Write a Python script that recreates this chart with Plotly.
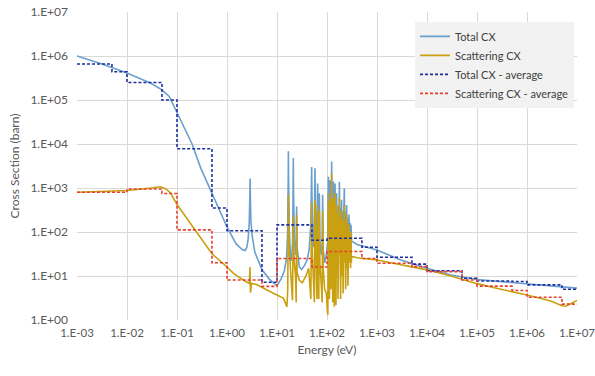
import plotly.graph_objects as go

# ---------------- data ----------------
# Total cross section (solid line)
total_E = [0.001, 0.00316, 0.01, 0.03, 0.05, 0.07, 0.1, 0.2, 0.3, 0.5, 1.0, 1.5, 2.0, 2.3,
           2.5, 2.65, 2.78, 2.86, 2.9, 2.94, 3.0, 3.2, 3.6, 5.0, 7.0,
           10, 12, 14, 15.5, 16.3, 16.8, 16.9, 17.0, 17.6, 18.5, 19.5, 20.5, 21.0, 21.2, 21.4,
           22.2, 23.5, 24.2, 24.7, 25.2, 26.5, 28, 31, 35, 40, 44, 47.5, 49.0, 49.3, 49.6,
           51, 54, 56.5, 57.5, 58.5, 60.5, 63, 65, 66.5, 68.5, 70.3, 72, 77, 80, 81.8, 84,
           90, 97, 103, 105.5, 106.5, 108, 110, 112, 113.5, 115, 116.5, 118, 120, 122, 124,
           126, 128, 130, 132, 134, 136, 138, 140, 142, 145, 147, 149, 151, 153, 156, 159,
           162, 166, 170, 173, 177, 180, 184, 187, 190, 193, 196, 200, 205, 210, 215, 222,
           227, 232, 236, 240, 247, 252, 258, 262, 266, 270, 275, 282, 290, 296, 302, 311,
           400, 1000, 3000, 10000, 30000, 100000, 300000, 1000000, 3000000, 10000000]
total_S = [1.0e6, 6.6e5, 4.1e5, 2.4e5, 1.7e5, 1.2e5, 5.2e4, 1.0e4, 2.8e3, 7.5e2, 1.3e2, 5.5e1, 4.0e1, 3.8e1,
           45, 70, 150, 600, 1650, 500, 180, 80, 35, 14, 8.5,
           6.0, 8.5, 13, 25, 90, 2000, 6800, 2000, 120, 30, 22, 60, 900, 4800, 900,
           70, 30, 45, 380, 45, 22, 16, 14, 17, 23, 40, 150, 1500, 3000, 1500,
           120, 45, 500, 2800, 500, 70, 60, 1260, 90, 160, 760, 60, 30, 45, 700, 40,
           20, 30, 60, 300, 1800, 80, 300, 50, 200, 1500, 60, 400, 45, 250, 4000,
           70, 500, 45, 200, 1400, 60, 500, 35, 200, 1260, 60, 450, 45, 250, 760, 60,
           400, 40, 350, 45, 1380, 70, 350, 35, 250, 60, 540, 50, 300, 40, 200, 980,
           60, 280, 40, 180, 410, 50, 200, 45, 150, 45, 250, 50, 160, 45, 145, 62,
           52, 39, 23, 15, 10.5, 8.3, 7.4, 6.7, 6.0, 5.3]

# Scattering cross section (solid line)
scat_E = [0.001, 0.01, 0.03, 0.047, 0.06, 0.075, 0.1, 0.2, 0.3, 0.5, 1.0, 1.35, 2.1, 2.8,
          2.88, 2.95, 3.1, 4.0, 6.3,
          10, 13.5, 15.0, 15.8, 16.4, 16.8, 16.9, 17.0, 17.6, 18.5, 19.5, 20.4, 21.0, 21.2, 21.4,
          22.2, 23.5, 24.2, 24.7, 25.2, 28, 32, 38, 43, 47.5, 49.0, 49.3, 49.6, 51, 54, 56,
          57.5, 58.5, 60.5, 63, 65, 66.5, 68.5, 70.3, 72, 77, 80, 81.8, 84, 90, 97, 102, 104,
          105.5, 106.5, 108, 110, 112, 113.5, 115, 116.5, 118, 120, 122, 124, 126, 128, 130,
          132, 134, 136, 138, 140, 142, 145, 147, 149, 151, 153, 156, 159, 162, 166, 170,
          173, 177, 180, 184, 187, 190, 193, 196, 200, 205, 210, 215, 222, 227, 232, 236,
          240, 247, 252, 258, 262, 266, 270, 275, 282, 290, 296, 302, 307, 311,
          400, 1000, 3000, 10000, 30000, 100000, 300000, 1000000, 3000000, 5000000, 6000000,
          8000000, 10000000]
scat_S = [800, 880, 1000, 1070, 950, 760, 420, 140, 70, 32, 16, 11.5, 8.1, 6.8,
          16, 4.2, 6.8, 6.3, 4.8,
          3.7, 3.1, 2.3, 2.0, 5, 300, 700, 300, 40, 15, 8, 2.8, 50, 220, 60,
          20, 10, 2.5, 250, 12, 8, 7, 10, 15, 3, 200, 470, 150, 30, 5, 2.5,
          540, 150, 10, 3, 400, 20, 3, 300, 20, 6, 2.5, 300, 15, 5, 4, 1.5, 1.3,
          60, 760, 30, 200, 3, 80, 500, 15, 250, 5, 150, 2100, 40, 300, 2.5,
          120, 600, 20, 350, 2, 100, 760, 30, 300, 2.2, 150, 400, 20, 250, 3, 200,
          10, 600, 30, 200, 3, 150, 20, 300, 10, 180, 4, 120, 400, 20, 180, 5,
          100, 250, 15, 120, 6, 80, 10, 150, 20, 90, 15, 100, 20, 28,
          26, 23, 18, 13.8, 10, 6.7, 5.0, 3.7, 2.7, 2.1, 2.05,
          2.5, 2.8]

# Group averages (bin edges and values)
bin_edges = [0.001, 0.005, 0.01, 0.05, 0.1, 0.5, 1, 5, 10, 50, 100, 500, 1000,
             5000, 10000, 50000, 100000, 500000, 1000000, 5000000, 10000000]
total_avg = [6.6e5, 4.4e5, 2.5e5, 1.0e5, 7.8e3, 350, 107, 7.2, 145, 65, 72, 45, 26.6,
             18.6, 13.2, 8.9, 7.7, 7.5, 6.3, 5.0]
scat_avg = [800, 800, 950, 750, 112, 20, 8.1, 5.8, 25, 16, 36, 25, 19.5,
            16.3, 12.6, 8.1, 5.9, 4.7, 3.3, 2.3]

x_tickvals = [1e-3, 1e-2, 1e-1, 1e0, 1e1, 1e2, 1e3, 1e4, 1e5, 1e6, 1e7]
x_ticktext = ["1.E-03", "1.E-02", "1.E-01", "1.E+00", "1.E+01", "1.E+02", "1.E+03",
              "1.E+04", "1.E+05", "1.E+06", "1.E+07"]
y_tickvals = [1e0, 1e1, 1e2, 1e3, 1e4, 1e5, 1e6, 1e7]
y_ticktext = ["1.E+00", "1.E+01", "1.E+02", "1.E+03", "1.E+04", "1.E+05", "1.E+06", "1.E+07"]

# ---------------- figure ----------------
FONT = "Lato, 'Open Sans', sans-serif"
fig = go.Figure()

fig.add_trace(go.Scatter(x=total_E, y=total_S, mode="lines", name="Total CX",
                         line=dict(color="#6A9FCF", width=1.6)))
fig.add_trace(go.Scatter(x=scat_E, y=scat_S, mode="lines", name="Scattering CX",
                         line=dict(color="#C9A010", width=1.6)))
fig.add_trace(go.Scatter(x=bin_edges, y=total_avg + [total_avg[-1]], mode="lines",
                         name="Total CX - average", line_shape="hv",
                         line=dict(color="#1F2FA0", width=1.6, dash="3px,2px")))
fig.add_trace(go.Scatter(x=bin_edges, y=scat_avg + [scat_avg[-1]], mode="lines",
                         name="Scattering CX - average", line_shape="hv",
                         line=dict(color="#E8402A", width=1.6, dash="3px,2px")))

fig.update_layout(
    width=595, height=376,
    margin=dict(l=77, r=18, t=12, b=56),
    paper_bgcolor="white", plot_bgcolor="white",
    font=dict(family=FONT, size=12, color="#595959"),
    showlegend=True,
    legend=dict(x=0.676, y=0.968, xanchor="left", yanchor="top",
                bgcolor="#F2F2F2", borderwidth=0,
                font=dict(family=FONT, size=11, color="#404040"),
                itemwidth=30, tracegroupgap=0),
)
fig.update_xaxes(type="log", range=[-3, 7], tickvals=x_tickvals, ticktext=x_ticktext,
                 automargin=False, ticklabelstandoff=4, ticklabeloverflow="allow",
                 showgrid=True, gridcolor="#D9D9D9", gridwidth=1, zeroline=False,
                 showline=False, ticks="", tickfont=dict(size=11.5, color="#595959"),
                 title=dict(text="Energy (eV)", font=dict(size=12, color="#595959"), standoff=8))
fig.update_yaxes(type="log", range=[0, 7], tickvals=y_tickvals, ticktext=y_ticktext,
                 automargin=False, ticklabelstandoff=8, ticklabeloverflow="allow",
                 showgrid=True, gridcolor="#D9D9D9", gridwidth=1, zeroline=False,
                 showline=False, ticks="", tickfont=dict(size=12, color="#595959"),
                 title=dict(text="Cross Section (barn)", font=dict(size=12, color="#595959"), standoff=8))

fig.write_html("out.html", config={"displayModeBar": False},
               post_script="document.body.style.margin='0';document.body.style.overflow='hidden';")
